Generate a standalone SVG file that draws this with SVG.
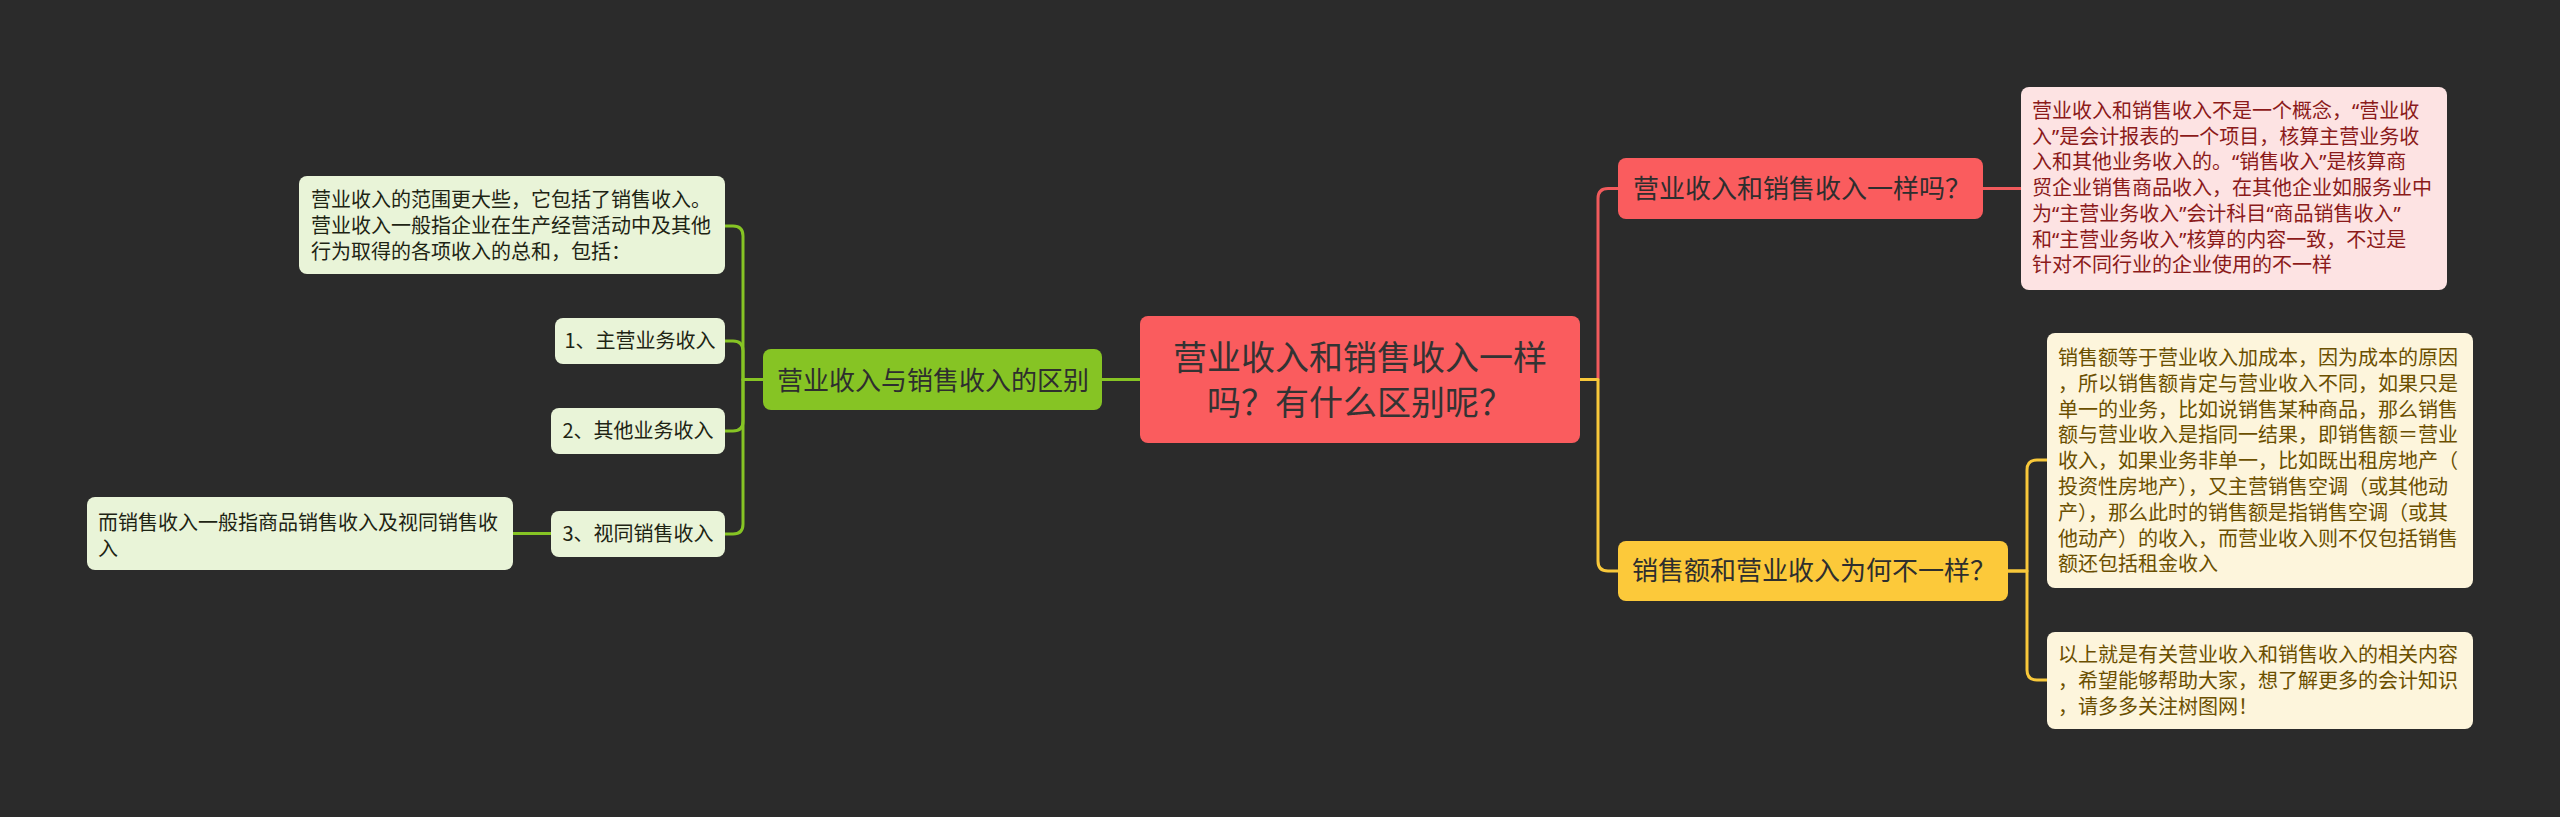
<svg xmlns="http://www.w3.org/2000/svg" width="2560" height="817" viewBox="0 0 2560 817">
<style>
text{font-family:"Noto Sans CJK SC","Noto Sans",sans-serif}
.q{font-family:"Noto Sans","DejaVu Sans",sans-serif}
.c{fill:none;stroke-width:3;stroke-linecap:round;stroke-linejoin:round}
.cr{stroke:#f15a5c}.cy{stroke:#f8c83a}.cg{stroke:#86c424}
.root{fill:#fa5c5e}
.red{fill:#fa5c5e}
.yel{fill:#fcc93a}
.grn{fill:#86c424}
.pink{fill:#fde3e3}
.cream{fill:#fdf5dc}
.lg{fill:#e9f4d8}
.t-root{font-size:34px;fill:#333333;text-anchor:middle}
.t-main{font-size:26px;fill:#2e2e2e}
.t-pink{font-size:20px;fill:#8b1a1a}
.t-cream{font-size:20px;fill:#6b4f00}
.t-lg{font-size:20px;fill:#1e2414}
</style>
<rect width="2560" height="817" fill="#2b2b2b"/>
<g id="connectors">
<path class="c cg" d="M1102 379.5 H1140"/>
<path class="c cg" d="M763 379.5 H743 V236 Q743 226 733 226 H725"/>
<path class="c cg" d="M763 379.5 H743 V351 Q743 341 733 341 H725"/>
<path class="c cg" d="M763 379.5 H743 V421 Q743 431 733 431 H725"/>
<path class="c cg" d="M763 379.5 H743 V524 Q743 534 733 534 H725"/>
<path class="c cg" d="M551 533.5 H513"/>
<path class="c cr" d="M1580 379.5 H1598 V198.5 Q1598 188.5 1608 188.5 H1618"/>
<path class="c cr" d="M1983 188.5 H2021"/>
<path class="c cy" d="M1580 379.5 H1598 V561 Q1598 571 1608 571 H1618"/>
<path class="c cy" d="M2008 571 H2027 V470 Q2027 460 2037 460 H2047"/>
<path class="c cy" d="M2008 571 H2027 V670 Q2027 680 2037 680 H2047"/>
</g>
<g id="root">
<rect class="root" x="1140" y="316" width="440" height="127" rx="8"/>
<text class="t-root" x="1360" y="370">营业收入和销售收入一样</text>
<text class="t-root" x="1360" y="415">吗？有什么区别呢？</text>
</g>
<g id="n-same">
<rect class="red" x="1618" y="158" width="365" height="61" rx="8"/>
<text class="t-main" x="1633" y="198">营业收入和销售收入一样吗？</text>
</g>
<g id="n-same-detail">
<rect class="pink" x="2021" y="87" width="426" height="203" rx="8"/>
<text class="t-pink"><tspan x="2032" y="118">营业收入和销售收入不是一个概念，<tspan class="q">“</tspan>营业收</tspan><tspan x="2032" y="143.7">入<tspan class="q">”</tspan>是会计报表的一个项目，核算主营业务收</tspan><tspan x="2032" y="169.4">入和其他业务收入的。<tspan class="q">“</tspan>销售收入<tspan class="q">”</tspan>是核算商</tspan><tspan x="2032" y="195.1">贸企业销售商品收入，在其他企业如服务业中</tspan><tspan x="2032" y="220.8">为<tspan class="q">“</tspan>主营业务收入<tspan class="q">”</tspan>会计科目<tspan class="q">“</tspan>商品销售收入<tspan class="q">”</tspan></tspan><tspan x="2032" y="246.5">和<tspan class="q">“</tspan>主营业务收入<tspan class="q">”</tspan>核算的内容一致，不过是</tspan><tspan x="2032" y="272.2">针对不同行业的企业使用的不一样</tspan></text>
</g>
<g id="n-why">
<rect class="yel" x="1618" y="541" width="390" height="60" rx="8"/>
<text class="t-main" x="1632" y="580">销售额和营业收入为何不一样？</text>
</g>
<g id="n-why-detail">
<rect class="cream" x="2047" y="333" width="426" height="255" rx="8"/>
<text class="t-cream"><tspan x="2058" y="365">销售额等于营业收入加成本，因为成本的原因</tspan><tspan x="2058" y="390.8">，所以销售额肯定与营业收入不同，如果只是</tspan><tspan x="2058" y="416.6">单一的业务，比如说销售某种商品，那么销售</tspan><tspan x="2058" y="442.4">额与营业收入是指同一结果，即销售额＝营业</tspan><tspan x="2058" y="468.2">收入，如果业务非单一，比如既出租房地产（</tspan><tspan x="2058" y="494">投资性房地产），又主营销售空调（或其他动</tspan><tspan x="2058" y="519.8">产），那么此时的销售额是指销售空调（或其</tspan><tspan x="2058" y="545.6">他动产）的收入，而营业收入则不仅包括销售</tspan><tspan x="2058" y="571.4">额还包括租金收入</tspan></text>
</g>
<g id="n-summary">
<rect class="cream" x="2047" y="632" width="426" height="97" rx="8"/>
<text class="t-cream"><tspan x="2058" y="662">以上就是有关营业收入和销售收入的相关内容</tspan><tspan x="2058" y="687.8">，希望能够帮助大家，想了解更多的会计知识</tspan><tspan x="2058" y="713.6">，请多多关注树图网！</tspan></text>
</g>
<g id="n-diff">
<rect class="grn" x="763" y="349" width="339" height="61" rx="8"/>
<text class="t-main" x="777" y="390">营业收入与销售收入的区别</text>
</g>
<g id="n-scope">
<rect class="lg" x="299" y="176" width="426" height="98" rx="8"/>
<text class="t-lg"><tspan x="311" y="207">营业收入的范围更大些，它包括了销售收入。</tspan><tspan x="311" y="232.8">营业收入一般指企业在生产经营活动中及其他</tspan><tspan x="311" y="258.6">行为取得的各项收入的总和，包括：</tspan></text>
</g>
<g id="n-item1">
<rect class="lg" x="555" y="318" width="170" height="46" rx="8"/>
<text class="t-lg" x="640" y="348" text-anchor="middle">1、主营业务收入</text>
</g>
<g id="n-item2">
<rect class="lg" x="551" y="408" width="174" height="46" rx="8"/>
<text class="t-lg" x="638" y="438" text-anchor="middle">2、其他业务收入</text>
</g>
<g id="n-item3">
<rect class="lg" x="551" y="511" width="174" height="46" rx="8"/>
<text class="t-lg" x="638" y="541" text-anchor="middle">3、视同销售收入</text>
</g>
<g id="n-sales">
<rect class="lg" x="87" y="497" width="426" height="73" rx="8"/>
<text class="t-lg"><tspan x="98" y="530">而销售收入一般指商品销售收入及视同销售收</tspan><tspan x="98" y="555.5">入</tspan></text>
</g>
</svg>
